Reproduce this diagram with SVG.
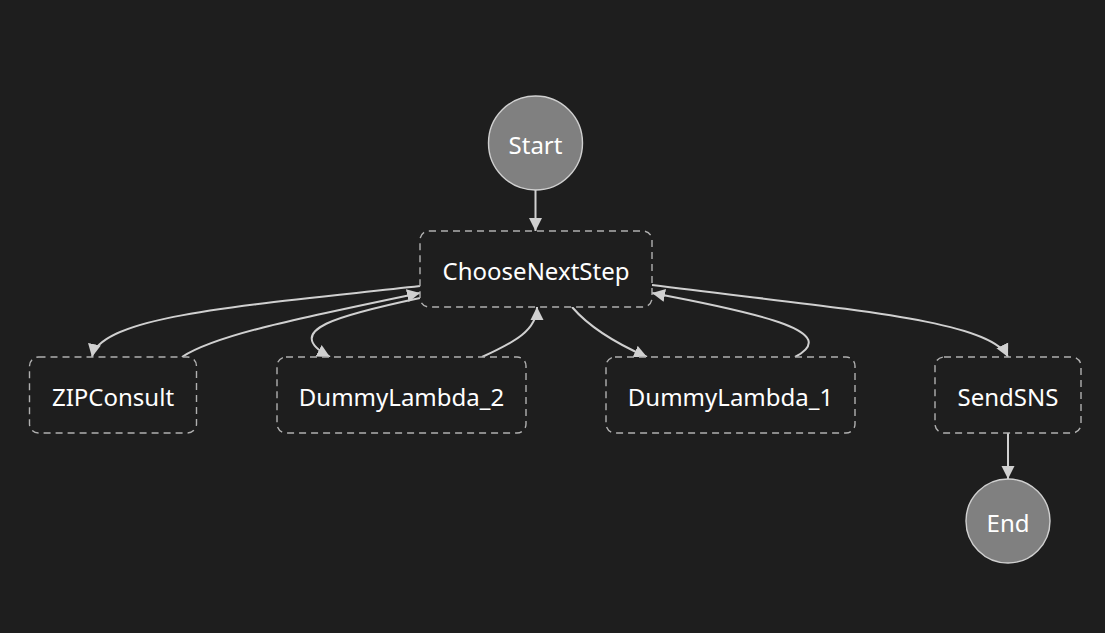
<svg xmlns="http://www.w3.org/2000/svg" width="1105" height="633" viewBox="0 0 1105 633">
<style>
.bg{fill:#1e1e1e}
.task rect{fill:#1e1e1e;stroke:#b0b0b0;stroke-width:1.4;stroke-dasharray:7 5}
.term circle{fill:#808080;stroke:#d0d0d0;stroke-width:1.4}
text{font-family:"Noto Sans","Open Sans","DejaVu Sans",sans-serif;font-size:24px;fill:#ffffff;text-anchor:middle;dominant-baseline:central}
.edges path{fill:none;stroke:#d0d0d0;stroke-width:2}
</style>
<defs>
<marker id="arr" markerUnits="userSpaceOnUse" markerWidth="14" markerHeight="14" refX="13" refY="7" orient="auto">
<path d="M0,0.5 L13,7 L0,13.5 Z" fill="#d0d0d0"/>
</marker>
</defs>
<rect class="bg" x="0" y="0" width="1105" height="633"/>
<g class="edges">
<path d="M535.5,190 L535.5,231" marker-end="url(#arr)"/>
<path d="M420,286 C250,305 100,315 92,357" marker-end="url(#arr)"/>
<path d="M182,357 C215,335 300,318 420,293" marker-end="url(#arr)"/>
<path d="M420,298 C340,315 280,330 330,357" marker-end="url(#arr)"/>
<path d="M482,357 C515,342 537,330 537,307" marker-end="url(#arr)"/>
<path d="M572,307 C590,328 615,343 647,357" marker-end="url(#arr)"/>
<path d="M795,357 C840,333 770,315 652,293" marker-end="url(#arr)"/>
<path d="M652,285 C850,310 990,320 1008,357" marker-end="url(#arr)"/>
<path d="M1008,433 L1008,479" marker-end="url(#arr)"/>
</g>
<g id="Start" class="term"><circle cx="535.5" cy="143" r="47"/><text x="535.5" y="144">Start</text></g>
<g id="ChooseNextStep" class="task"><rect x="420" y="231" width="232" height="76" rx="9"/><text x="536" y="270">ChooseNextStep</text></g>
<g id="ZIPConsult" class="task"><rect x="29.5" y="357" width="167" height="76" rx="9"/><text x="113" y="396">ZIPConsult</text></g>
<g id="DummyLambda_2" class="task"><rect x="277" y="357" width="249" height="76" rx="9"/><text x="401.5" y="396">DummyLambda_2</text></g>
<g id="DummyLambda_1" class="task"><rect x="606" y="357" width="249" height="76" rx="9"/><text x="730.5" y="396">DummyLambda_1</text></g>
<g id="SendSNS" class="task"><rect x="935" y="357" width="146" height="76" rx="9"/><text x="1008" y="396">SendSNS</text></g>
<g id="End" class="term"><circle cx="1008" cy="521" r="42"/><text x="1008" y="522">End</text></g>
</svg>
